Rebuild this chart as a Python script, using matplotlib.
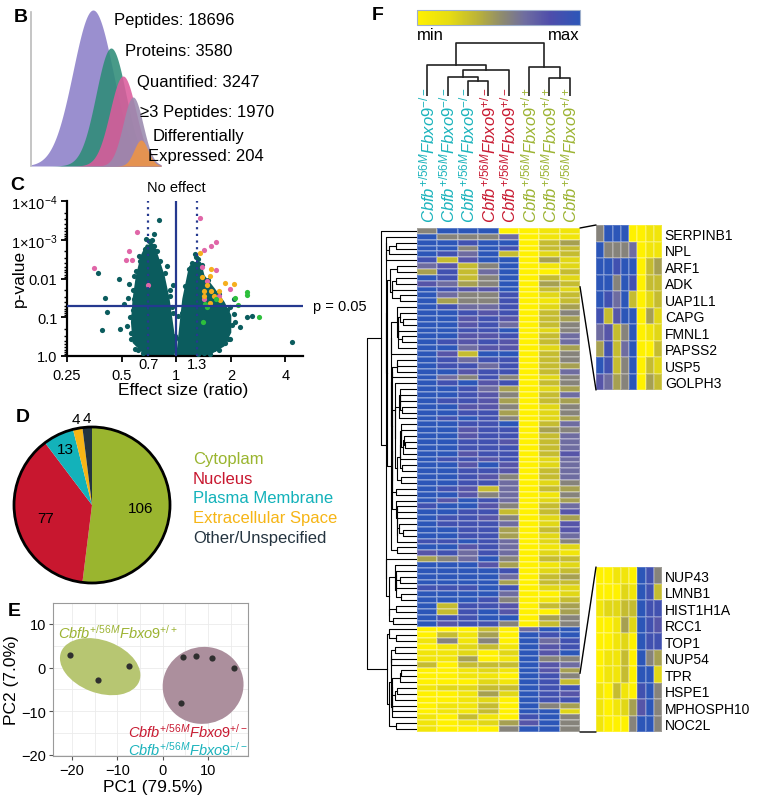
import numpy as np
import matplotlib
matplotlib.use('Agg')
import matplotlib.pyplot as plt
from matplotlib.colors import LinearSegmentedColormap
from matplotlib.cm import ScalarMappable
from matplotlib.patches import Ellipse, Circle, ConnectionPatch, Polygon
from matplotlib.ticker import FixedLocator, LogLocator, NullFormatter, MultipleLocator

plt.rcParams['font.family'] = ['Liberation Sans', 'DejaVu Sans']
plt.rcParams['mathtext.fontset'] = 'custom'
plt.rcParams['mathtext.rm'] = 'Liberation Sans'
plt.rcParams['mathtext.it'] = 'Liberation Sans:italic'
plt.rcParams['mathtext.bf'] = 'Liberation Sans:bold'

# ---------------- data ----------------
# B: funnel
funnel_labels = ['Peptides', 'Proteins', 'Quantified', '\u22653 Peptides', 'Expressed']
funnel_counts = [18696, 3580, 3247, 1970, 204]
hump_center = [62, 80, 92, 102, 110]
hump_height = [156, 118, 90, 69, 26]
hump_width = [20, 15, 13, 10, 7]
hump_colors = ['#8C80C9', '#2E8C78', '#DB5C9C', '#9A8AAE', '#EE9545']

# C: volcano (log2 effect, -log10 p)
core_left_l2 = [-0.05, -0.02, -0.08, -0.14, -0.23, -0.35, -0.42, -0.54, -0.63, -0.72, -0.78, -0.81, -0.78, -0.54]
core_left_nl = [0.01, 0.27, 0.87, 1.47, 2.07, 2.59, 2.85, 2.85, 2.59, 2.07, 1.47, 0.87, 0.35, 0.01]
core_right_l2 = [0.02, 0.07, 0.13, 0.23, 0.32, 0.44, 0.50, 0.69, 0.87, 0.99, 0.99, 0.87, 0.56]
core_right_nl = [0.01, 0.70, 1.47, 2.16, 2.40, 2.40, 2.07, 1.73, 1.38, 1.04, 0.61, 0.27, 0.01]
teal_l2 = [-0.31, -0.40, -0.46, -0.40, -0.54, -0.69, -1.43, -1.04, -1.30, -1.27, -1.36, -1.03, -0.87,
           -0.95, -0.91, -0.83, -0.75, -0.11, -0.08, -0.17, 0.29, 0.35, 0.39, 0.24, 1.30, 1.39, 1.08,
           1.17, 2.12, 0.99, 1.05, 0.84, 0.90, 0.75, 0.69, 0.50, 1.05, 0.93, 0.17, 0.10, -0.55, -0.35,
           -0.63, -0.77, -0.80, -0.77, -0.05, -0.02, 0.04, 0.20, 0.81, 0.72, 0.99,
           -0.80, -0.82, -0.79, -0.74, -0.66, -0.58, -0.50, -0.44, -0.38, -0.30, -0.20, -0.12, -0.06,
           -0.03, -0.70, -0.60, -0.85, -0.88,
           0.05, 0.10, 0.17, 0.27, 0.37, 0.47, 0.58, 0.78, 0.93, 1.02, 0.95, 0.78, 0.62, 0.40]
teal_nl = [3.52, 3.15, 2.86, 2.85, 2.74, 2.59, 2.14, 1.99, 1.50, 1.13, 0.67, 0.70, 1.86,
           1.34, 0.78, 0.44, 0.18, 1.56, 1.26, 2.33, 2.40, 2.63, 2.50, 2.25, 1.00, 1.02, 0.87,
           0.76, 0.35, 1.26, 1.08, 0.52, 0.34, 0.31, 0.18, 0.09, 1.47, 0.91, 0.18, 0.40, 3.02, 2.72,
           2.33, 1.47, 1.04, 2.07, 1.82, 0.52, 1.04, 1.73, 1.21, 0.70, 0.44,
           1.20, 0.60, 1.70, 2.20, 2.45, 2.75, 2.98, 3.00, 2.70, 2.45, 2.15, 1.70, 1.10,
           0.50, 0.15, 0.08, 1.00, 1.50,
           0.45, 1.10, 1.80, 2.30, 2.55, 2.35, 1.95, 1.60, 1.20, 0.80, 0.45, 0.15, 0.05, 0.05]
pink_l2 = [0.44, 0.73, 0.64, 0.50, 0.47, 0.73, -0.72, -0.86, -0.92, -0.81, -1.50, -0.52, 0.56, 0.99, 0.78, 0.50]
pink_nl = [3.55, 2.95, 2.85, 2.74, 2.29, 2.22, 3.21, 2.70, 2.48, 2.48, 2.27, 1.82, 1.94, 1.73, 1.54, 1.47]
orange_l2 = [0.43, 0.64, 0.47, 0.61, 0.56, 0.64, 0.78, 0.90, 1.06, 0.50, 0.69, 0.80, 0.62, 0.51]
orange_nl = [2.66, 2.25, 2.05, 2.06, 1.82, 1.69, 1.69, 1.88, 1.87, 1.56, 1.54, 1.45, 1.38, 1.69]
green_l2 = [1.30, 1.30, 1.08, 1.13, 0.53, 0.56, 0.49, 1.52, 0.72]
green_nl = [1.64, 1.57, 1.49, 1.32, 1.34, 1.26, 0.89, 1.00, 1.47]

# D: pie
loc_names = ['Cytoplam', 'Nucleus', 'Plasma Membrane', 'Extracellular Space', 'Other/Unspecified']
loc_counts = [106, 77, 13, 4, 4]
loc_colors = ['#9AB52F', '#C8172F', '#13B2BA', '#F6B516', '#243440']

# E: PCA
pc1_wt = [-20.4, -14.2, -7.4]
pc2_wt = [2.8, -2.76, 0.3]
pc1_mut = [4.47, 7.4, 10.8, 15.7, 3.96]
pc2_mut = [2.45, 2.7, 2.07, 0.0, -8.1]
ellipse_center = [(-13.8, 0.2), (8.9, -4.1)]
ellipse_width = [18.5, 18.0]
ellipse_height = [12.0, 17.5]
ellipse_angle = [-22, 35]
ellipse_colors = ['#B7C672', '#AC8F9D']

# F: heatmap (0 = min, 9 = max)
col_genotype = ['-/-', '-/-', '-/-', '+/-', '+/-', '+/+', '+/+', '+/+']
genotype_colors = {'-/-': '#1BB3BC', '+/-': '#C81B32', '+/+': '#9CB332'}
top_genes = ['SERPINB1', 'NPL', 'ARF1', 'ADK', 'UAP1L1', 'CAPG', 'FMNL1', 'PAPSS2', 'USP5', 'GOLPH3']
bottom_genes = ['NUP43', 'LMNB1', 'HIST1H1A', 'RCC1', 'TOP1', 'NUP54', 'TPR', 'HSPE1', 'MPHOSPH10', 'NOC2L']
top_rows = ["59990011", "95556011", "99899034", "99598033", "98693023",
            "83799042", "67359012", "48369003", "98359032", "76459043"]
upper_rows = ["98779032", "96558023", "94558013", "98668024", "99878035", "99787034", "99786035", "99889025",
              "99778036", "98787036", "99677024", "97399035", "98688035", "98868034", "99788036", "96585025",
              "98978035", "99864024", "99875036", "98874034", "99775025", "99884025", "98985024", "99889036",
              "99788045", "99788036", "99887036", "99888036", "99788037", "98878026", "99797026", "99887036",
              "99875036", "99886025", "98736034", "99756015", "97986024", "89975036", "99883037", "98875024",
              "98886027", "99884037", "99884026", "88986025", "99786012", "78686021", "45695033", "99974012",
              "99998023", "99996034", "99994033", "88898022", "99996002", "99985013", "93887034", "93897004",
              "98899045", "97885035"]
lower_rows = ["00030699", "03140989", "15150968", "01231978", "11202979", "11401955", "30333976", "00121974"]
bottom_rows = ["00110985", "00021983", "12233988", "00142987", "00120988",
               "01130954", "01130992", "10310895", "10124795", "10005995"]
# column dendrogram merges: (a, b, height), new ids start at 8
col_merges = [(2, 3, 0.5), (1, 8, 0.65), (9, 4, 0.9), (0, 10, 1.05), (6, 7, 0.6), (5, 12, 1.0), (11, 13, 1.8)]

heat_rows = top_rows + upper_rows + lower_rows + bottom_rows
heat = np.array([[int(c) for c in r] for r in heat_rows]) / 9.0
n_rows = heat.shape[0]

# ---------------- figure ----------------
W, H = 757, 803
fig = plt.figure(figsize=(W / 100, H / 100), dpi=100)


def px_axes(l, t, w, h):
    return fig.add_axes([l / W, 1 - (t + h) / H, w / W, h / H])


def px_text(x, y, s, **kw):
    return fig.text(x / W, 1 - y / H, s, **kw)


for lab, (x, y) in zip('BCDEF', [(14, 18), (10, 186), (16, 418), (8, 612), (372, 16)]):
    px_text(x, y, lab, fontsize=14, fontweight='bold', ha='left', va='center')

# ---- B ----
axb = px_axes(31, 8, 130, 159)
xs = np.linspace(0, 130, 500)
for c, h, w, col in zip(hump_center, hump_height, hump_width, hump_colors):
    axb.fill_between(xs, 0, h * np.exp(-0.5 * ((xs - c) / w) ** 2), color=col, alpha=0.88, lw=0)
axb.set_xlim(0, 130)
axb.set_ylim(0, 159)
for s in ['top', 'right', 'bottom']:
    axb.spines[s].set_visible(False)
axb.spines['left'].set_color('#BBBBBB')
axb.spines['left'].set_linewidth(1.2)
axb.spines['left'].set_bounds(0, 154)
axb.set_xticks([])
axb.set_yticks([])
funnel_pos = [(114, 21), (125, 52), (137, 83), (140, 112), (148, 157)]
for lab, n, (x, y) in zip(funnel_labels, funnel_counts, funnel_pos):
    px_text(x, y, f'{lab}: {n}', fontsize=12, ha='left', va='center')
px_text(153, 137, 'Differentially', fontsize=12, ha='left', va='center')

# ---- C ----
axc = px_axes(67, 202, 236, 155)
axc.set_xscale('log', base=2)
axc.set_yscale('log')
teal = '#0B5C5E'
for l2, nl in [(core_left_l2, core_left_nl), (core_right_l2, core_right_nl)]:
    pts = np.column_stack([2.0 ** np.array(l2), 10.0 ** -np.array(nl)])
    axc.add_patch(Polygon(pts, closed=True, fc=teal, ec=teal, lw=1.5, joinstyle='round'))
for l2, nl, col in [(teal_l2, teal_nl, teal), (pink_l2, pink_nl, '#E066A8'),
                    (orange_l2, orange_nl, '#F5AF1E'), (green_l2, green_nl, '#2DBF3C')]:
    axc.scatter(2.0 ** np.array(l2), 10.0 ** -np.array(nl), s=14, color=col, lw=0, zorder=3)
navy = '#25398F'
axc.axhline(0.05, color=navy, lw=1.6, zorder=4)
axc.axvline(1.0, color=navy, lw=1.6, zorder=4)
for v in [0.7, 1.3]:
    axc.axvline(v, color=navy, lw=1.6, ls=(0, (1, 2)), zorder=4)
axc.set_xlim(0.25, 5.0)
axc.set_ylim(1.0, 1e-4)
axc.xaxis.set_major_locator(FixedLocator([0.25, 0.5, 1, 2, 4]))
axc.set_xticklabels(['0.25', '0.5', '1', '2', '4'])
axc.xaxis.set_minor_locator(FixedLocator([0.7, 1.3]))
axc.set_xticklabels(['0.7', '1.3'], minor=True)
axc.yaxis.set_major_locator(FixedLocator([1e-4, 1e-3, 1e-2, 1e-1, 1.0]))
axc.set_yticklabels(['1\u00d710$^{-4}$', '1\u00d710$^{-3}$', '0.01', '0.1', '1.0'])
axc.yaxis.set_minor_locator(LogLocator(base=10, subs=np.arange(2, 10)))
axc.yaxis.set_minor_formatter(NullFormatter())
axc.tick_params(axis='both', which='major', length=4, width=1.3, labelsize=10.5, pad=3)
axc.tick_params(axis='x', which='major', pad=5)
axc.tick_params(axis='x', which='minor', length=0, labelsize=10.5, pad=1)
axc.tick_params(axis='y', which='minor', length=2.5, width=1.0)
for s in ['top', 'right']:
    axc.spines[s].set_visible(False)
for s in ['left', 'bottom']:
    axc.spines[s].set_linewidth(1.6)
axc.set_xlabel('Effect size (ratio)', fontsize=12.5)
axc.xaxis.set_label_coords(0.49, -0.165)
axc.set_ylabel('p-value', fontsize=12.5)
axc.yaxis.set_label_coords(-0.17, 0.51)
axc.text(1.0, 1.09, 'No effect', transform=axc.get_xaxis_transform(), ha='center', va='center', fontsize=10.5)
axc.text(5.66, 0.05, 'p = 0.05', ha='left', va='center', fontsize=10.5, clip_on=False)

# ---- D ----
axd = px_axes(14, 428, 156, 156)
wedges, _ = axd.pie(loc_counts, colors=loc_colors, startangle=90, counterclock=False, radius=1,
                    wedgeprops=dict(linewidth=0))
axd.add_patch(Circle((0, 0), 1, fill=False, ec='black', lw=2, clip_on=False))
axd.set_xlim(-1, 1)
axd.set_ylim(-1, 1)
for w in wedges:
    w.set_clip_on(False)
label_r = [0.62, 0.62, 0.8, 1.12, 1.12]
for w, n, r in zip(wedges, loc_counts, label_r):
    ang = np.deg2rad((w.theta1 + w.theta2) / 2)
    axd.text(r * np.cos(ang), r * np.sin(ang), str(n), ha='center', va='center', fontsize=11)
for i, (name, col) in enumerate(zip(loc_names, loc_colors)):
    px_text(193, 460 + i * 19.5, name, color=col, fontsize=12, ha='left', va='center')

# ---- E ----
axe = px_axes(53, 604, 195, 153)
for c, w, h, a, col in zip(ellipse_center, ellipse_width, ellipse_height, ellipse_angle, ellipse_colors):
    axe.add_patch(Ellipse(c, w, h, angle=a, fc=col, ec='none', zorder=2))
axe.scatter(pc1_wt + pc1_mut, pc2_wt + pc2_mut, s=20, color='#2F2F2F', zorder=3, lw=0)
axe.set_xlim(-24.2, 18.8)
axe.set_ylim(-20.3, 14.8)
axe.set_xticks([-20, -10, 0, 10])
axe.set_yticks([-20, -10, 0, 10])
axe.xaxis.set_minor_locator(MultipleLocator(5))
axe.yaxis.set_minor_locator(MultipleLocator(5))
axe.grid(True, which='both', color='#EBEBEB', lw=0.6, zorder=0)
axe.set_axisbelow(True)
for s in axe.spines.values():
    s.set_color('#9A9A9A')
axe.tick_params(which='major', length=3, color='#555555', labelsize=10.5, pad=2)
axe.tick_params(which='minor', length=0)
axe.set_xlabel('PC1 (79.5%)', fontsize=12.5)
axe.xaxis.set_label_coords(0.51, -0.15)
axe.set_ylabel('PC2 (7.0%)', fontsize=12.5)
axe.yaxis.set_label_coords(-0.175, 0.5)
mlabel = r'$\mathit{Cbfb^{+/56M}Fbxo9^{%s}}$'
axe.text(-23.0, 8.3, mlabel % '+/+', color=genotype_colors['+/+'], fontsize=10.5, va='center', ha='left')
axe.text(18.8, -14.5, mlabel % '+/-', color=genotype_colors['+/-'], fontsize=10.5, va='center', ha='right')
axe.text(18.8, -18.6, mlabel % '-/-', color=genotype_colors['-/-'], fontsize=10.5, va='center', ha='right')

# ---- F ----
cmap = LinearSegmentedColormap.from_list('ym', [(0, '#FFF100'), (0.2, '#E6DC12'), (0.38, '#B9B13A'),
                                                (0.52, '#8E8B6E'), (0.66, '#6F6DA0'), (0.82, '#4E4DAB'),
                                                (1, '#2C56B8')])
cax = px_axes(417, 11, 163, 15)
cb = fig.colorbar(ScalarMappable(cmap=cmap), cax=cax, orientation='horizontal', ticks=[])
cb.outline.set_edgecolor('#9FB0CC')
px_text(417, 35, 'min', fontsize=12, ha='left', va='center')
px_text(580, 35, 'max', fontsize=12, ha='right', va='center')

hm = px_axes(417, 229, 163, 504)
hm.pcolormesh(np.arange(9), np.arange(n_rows + 1), heat, cmap=cmap, vmin=0, vmax=1,
              edgecolors=(1, 1, 1, 0.25), linewidth=0.3)
hm.set_xlim(0, 8)
hm.set_ylim(n_rows, 0)
hm.set_yticks([])
hm.xaxis.tick_top()
hm.set_xticks(np.arange(8) + 0.5)
hm.set_xticklabels([mlabel % g for g in col_genotype], rotation=90, fontsize=12, va='bottom')
for t, g in zip(hm.get_xticklabels(), col_genotype):
    t.set_color(genotype_colors[g])
hm.tick_params(axis='x', length=0, pad=4)
for s in hm.spines.values():
    s.set_visible(False)

# column dendrogram
cd = px_axes(417, 40, 163, 57)
pos = {i: (i + 0.5, 0.0) for i in range(8)}
for k, (a, b, h) in enumerate(col_merges):
    (xa, ha), (xb, hb) = pos[a], pos[b]
    cd.plot([xa, xa, xb, xb], [ha, h, h, hb], color='#222222', lw=1.2)
    pos[8 + k] = ((xa + xb) / 2, h)
cd.set_xlim(0, 8)
cd.set_ylim(0, 1.94)
cd.axis('off')


# row dendrogram: agglomerative, merging only neighbouring clusters (keeps display order)
def adjacent_linkage(data):
    clusters = [[i] for i in range(len(data))]
    nodes = [(i + 0.5, 0.0) for i in range(len(data))]
    segs = []
    while len(clusters) > 1:
        best = None
        for k in range(len(clusters) - 1):
            a = data[clusters[k]]
            b = data[clusters[k + 1]]
            d = np.sqrt(((a[:, None, :] - b[None, :, :]) ** 2).sum(-1)).mean()
            if best is None or d < best[0]:
                best = (d, k)
        d, k = best
        (ya, ha), (yb, hb) = nodes[k], nodes[k + 1]
        h = max(d, ha, hb)
        segs.append(([ha, h, h, hb], [ya, ya, yb, yb]))
        clusters[k:k + 2] = [clusters[k] + clusters[k + 1]]
        nodes[k:k + 2] = [((ya + yb) / 2, h)]
    return segs, nodes[0][1]


segs, top_h = adjacent_linkage(heat)
rd = px_axes(366, 229, 51, 504)
for hs, ys in segs:
    rd.plot(hs, ys, color='black', lw=0.8)
rd.set_xscale('function', functions=(lambda x: np.sqrt(np.clip(x, 0, None)), lambda x: np.square(x)))
rd.set_xlim(top_h * 1.04, 0)
rd.set_ylim(n_rows, 0)
rd.axis('off')

# zoom insets
for genes, rows, top in [(top_genes, slice(0, 10), 226), (bottom_genes, slice(n_rows - 10, n_rows), 568)]:
    ins = px_axes(596, top, 66, 165)
    ins.pcolormesh(np.arange(9), np.arange(11), heat[rows], cmap=cmap, vmin=0, vmax=1,
                   edgecolors=(1, 1, 1, 0.2), linewidth=0.3)
    ins.set_xlim(0, 8)
    ins.set_ylim(10, 0)
    ins.set_xticks([])
    ins.yaxis.tick_right()
    ins.set_yticks(np.arange(10) + 0.5)
    ins.set_yticklabels(genes, fontsize=10)
    ins.tick_params(axis='y', length=0, pad=2)
    for s in ins.spines.values():
        s.set_visible(False)
    r0 = rows.start
    for yh, yi in [(r0, 0), (r0 + 10, 10)]:
        con = ConnectionPatch(xyA=(8, yh), coordsA=hm.transData, xyB=(0, yi), coordsB=ins.transData,
                              color='black', lw=1.0)
        fig.add_artist(con)

fig.savefig('out.png', dpi=100)
